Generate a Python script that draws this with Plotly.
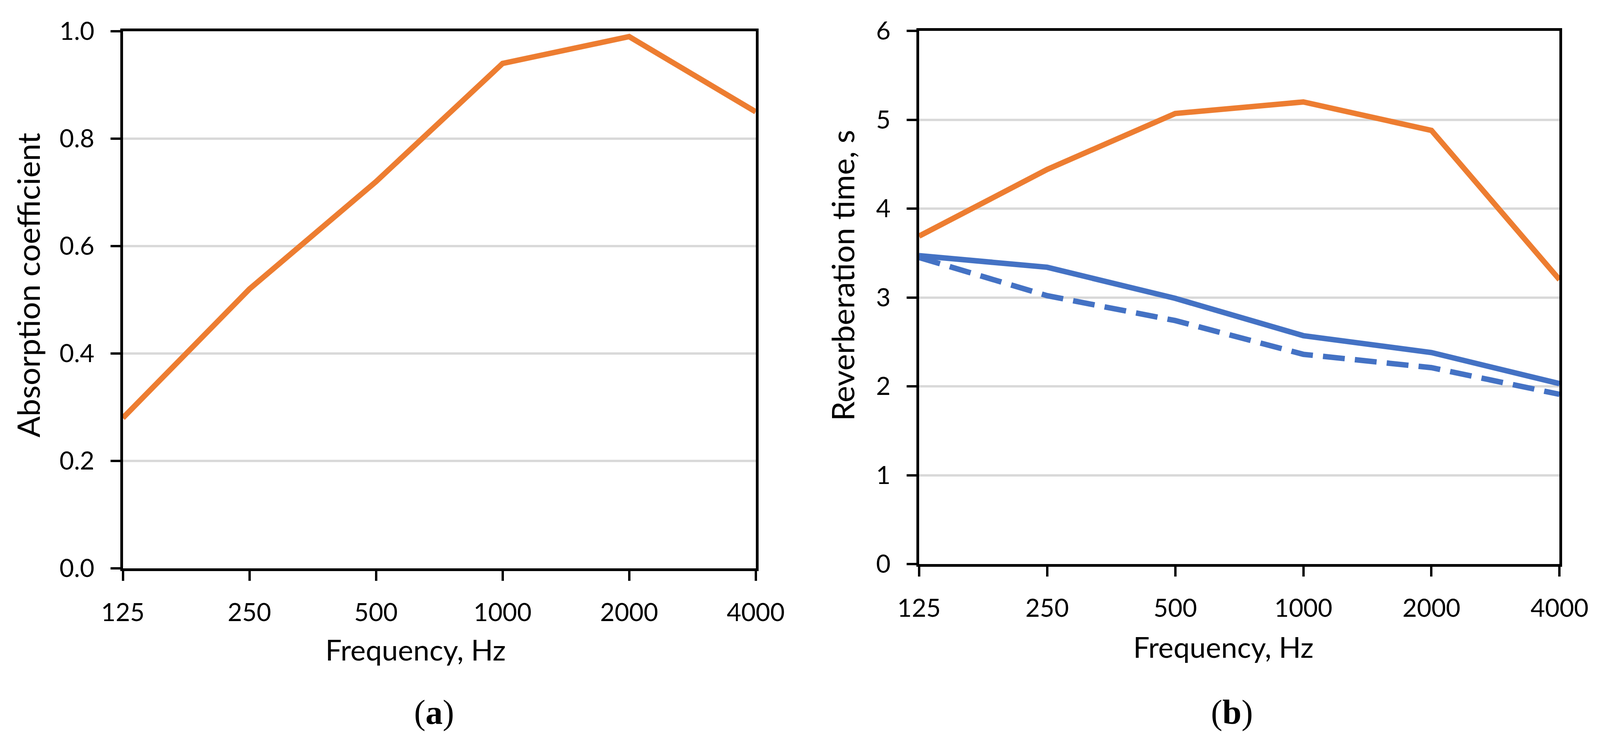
import plotly.graph_objects as go

# ---- data ----
freq_labels = ["125", "250", "500", "1000", "2000", "4000"]
absorption = [0.28, 0.52, 0.72, 0.94, 0.99, 0.85]
rt_orange = [3.69, 4.44, 5.07, 5.20, 4.88, 3.20]
rt_blue_solid = [3.47, 3.34, 2.99, 2.57, 2.38, 2.03]
rt_blue_dash = [3.45, 3.02, 2.74, 2.36, 2.21, 1.91]
ya_ticks = [0.0, 0.2, 0.4, 0.6, 0.8, 1.0]
ya_ticktext = ["0.0", "0.2", "0.4", "0.6", "0.8", "1.0"]
yb_ticks = [0, 1, 2, 3, 4, 5, 6]

W, H = 4389, 1897  # reference size used for fractional placement
ORANGE = "#ED7D31"
BLUE = "#4472C4"
GRID = "#D9D9D9"
AX = "#000000"
FONT = "Lato"
TICKSIZE = 64
XTITLESIZE = 74
YTITLESIZE = 80
LW = 14

fig = go.Figure()
fig.add_trace(go.Scatter(x=freq_labels, y=absorption, mode="lines",
                         line=dict(color=ORANGE, width=LW), xaxis="x", yaxis="y",
                         showlegend=False))
fig.add_trace(go.Scatter(x=freq_labels, y=rt_orange, mode="lines",
                         line=dict(color=ORANGE, width=LW), xaxis="x2", yaxis="y2",
                         showlegend=False))
fig.add_trace(go.Scatter(x=freq_labels, y=rt_blue_solid, mode="lines",
                         line=dict(color=BLUE, width=LW), xaxis="x2", yaxis="y2",
                         showlegend=False))
fig.add_trace(go.Scatter(x=freq_labels, y=rt_blue_dash, mode="lines",
                         line=dict(color=BLUE, width=LW, dash="56px,26px"),
                         xaxis="x2", yaxis="y2", showlegend=False))

def xaxis_cfg(domain, anchor):
    return dict(domain=domain, anchor=anchor, type="category",
                categoryorder="array", categoryarray=freq_labels,
                range=[0, len(freq_labels) - 1], automargin=False,
                showline=True, linecolor=AX, linewidth=7, mirror=True,
                ticks="outside", ticklen=25, tickwidth=6, tickcolor=AX,
                showgrid=False, zeroline=False,
                tickfont=dict(family=FONT, size=TICKSIZE, color="#000"),
                ticklabelstandoff=26)

def yaxis_cfg(domain, anchor, rng, tickvals, ticktext):
    return dict(domain=domain, anchor=anchor, range=rng, automargin=False,
                tickmode="array", tickvals=tickvals, ticktext=ticktext,
                showline=True, linecolor=AX, linewidth=7, mirror=True,
                ticks="outside", ticklen=25, tickwidth=6, tickcolor=AX,
                showgrid=True, gridcolor=GRID, gridwidth=6, zeroline=False,
                tickfont=dict(family=FONT, size=TICKSIZE, color="#000"),
                ticklabelstandoff=28)

ya_dom = [1 - 1455 / H, 1 - 80 / H]
yb_dom = [1 - 1444 / H, 1 - 79 / H]

fig.update_layout(
    template="none",
    autosize=True,
    margin=dict(l=0, r=0, t=0, b=0, pad=0, autoexpand=False),
    paper_bgcolor="white", plot_bgcolor="white",
    xaxis=xaxis_cfg([337 / W, 2073 / W], "y"),
    yaxis=yaxis_cfg(ya_dom, "x", [0, 1.0], ya_ticks, ya_ticktext),
    xaxis2=xaxis_cfg([2521 / W, 4278 / W], "y2"),
    yaxis2=yaxis_cfg(yb_dom, "x2", [0, 6], yb_ticks, [str(v) for v in yb_ticks]),
)

xt_font = dict(family=FONT, size=XTITLESIZE, color="#000")
yt_font = dict(family=FONT, size=YTITLESIZE, color="#000")
annotations = [
    dict(text="Frequency, Hz", x=1140 / W, y=1 - 1662 / H, xref="paper", yref="paper",
         showarrow=False, xanchor="center", yanchor="middle", font=xt_font),
    dict(text="Frequency, Hz", x=3356 / W, y=1 - 1655 / H, xref="paper", yref="paper",
         showarrow=False, xanchor="center", yanchor="middle", font=xt_font),
    dict(text="Absorption coefficient", x=76 / W, y=1 - 730 / H, xref="paper", yref="paper",
         showarrow=False, xanchor="center", yanchor="middle", textangle=-90, font=yt_font),
    dict(text="Reverberation time, s", x=2310 / W, y=1 - 705 / H, xref="paper", yref="paper",
         showarrow=False, xanchor="center", yanchor="middle", textangle=-90, font=yt_font),
    dict(text="(<b>a</b>)", x=1191 / W, y=1 - 1823 / H, xref="paper", yref="paper",
         showarrow=False, xanchor="center", yanchor="middle",
         font=dict(family="Liberation Serif", size=88, color="#000")),
    dict(text="(<b>b</b>)", x=3380 / W, y=1 - 1823 / H, xref="paper", yref="paper",
         showarrow=False, xanchor="center", yanchor="middle",
         font=dict(family="Liberation Serif", size=88, color="#000")),
]
fig.update_layout(annotations=annotations)

fig.write_html(
    "out.html",
    default_width="100vw",
    default_height="100vh",
    config={"responsive": True, "displayModeBar": False},
    post_script=("document.documentElement.style.margin='0';"
                 "document.body.style.margin='0';"
                 "document.body.style.overflow='hidden';"
                 "Plotly.Plots.resize(document.getElementById('{plot_id}'));"),
)
